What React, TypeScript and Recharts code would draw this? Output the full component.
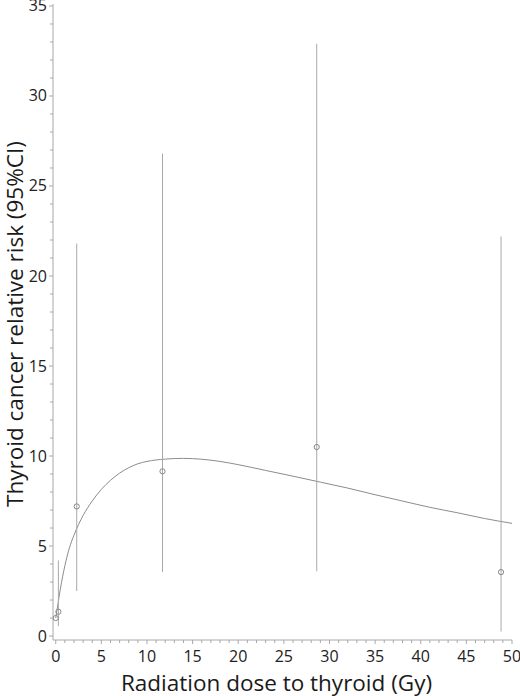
import React from 'react';
import { ComposedChart, Line, Scatter, ErrorBar, XAxis, YAxis } from 'recharts';

// fitted dose-response curve
const curveDose = [0, 0.25, 0.5, 1, 1.5, 2, 3, 4, 5, 6, 7, 8, 9, 10, 12, 14, 16, 18, 20, 23, 26, 29, 32, 35, 38, 41, 44, 47, 50];
const curveRisk = [1.0, 1.8, 2.6, 3.9, 4.9, 5.6, 6.7, 7.5, 8.15, 8.65, 9.05, 9.35, 9.57, 9.7, 9.83, 9.87, 9.82, 9.7, 9.52, 9.2, 8.88, 8.55, 8.22, 7.85, 7.5, 7.15, 6.85, 6.53, 6.26];

// category estimates with 95% CI
const pointDose = [0.0, 0.29, 2.3, 11.7, 28.6, 48.8];
const pointRisk = [1.0, 1.35, 7.2, 9.15, 10.5, 3.55];
const ciLow = [1.0, 0.55, 2.5, 3.55, 3.6, 0.25];
const ciHigh = [1.0, 4.2, 21.8, 26.8, 32.9, 22.2];

const xTicks = Array.from({ length: 51 }, (_, i) => i);
const yTicks = Array.from({ length: 36 }, (_, i) => i);

const curveData = curveDose.map((x, i) => ({ x, rr: curveRisk[i] }));
const pointData = pointDose.map((x, i) => ({
  x,
  y: pointRisk[i],
  err: [pointRisk[i] - ciLow[i], ciHigh[i] - pointRisk[i]],
}));

const AXIS = '#a8a8a8';
const FONT = '"Open Sans", sans-serif';

const XTick = (props: any) => {
  const { x, y, payload } = props;
  const major = payload.value % 5 === 0;
  return (
    <g>
      <line x1={x} x2={x} y1={y} y2={y + (major ? 4 : 3)} stroke={AXIS} />
      {major && (
        <text x={x} y={y + 22} textAnchor="middle" fontFamily={FONT} fontSize={16} fill="#222">
          {payload.value}
        </text>
      )}
    </g>
  );
};

const YTick = (props: any) => {
  const { x, y, payload } = props;
  const major = payload.value % 5 === 0;
  return (
    <g>
      <line x1={x} x2={x - (major ? 4 : 3)} y1={y} y2={y} stroke={AXIS} />
      {major && (
        <text x={x - 6} y={y + 5.5} textAnchor="end" fontFamily={FONT} fontSize={16} fill="#222">
          {payload.value}
        </text>
      )}
    </g>
  );
};

const Ring = (props: any) => (
  <circle cx={props.cx} cy={props.cy} r={2.6} fill="none" stroke="#888" strokeWidth={1} />
);

export default function App() {
  return (
    <div style={{ position: 'absolute', left: 0, top: 0 }}>
      <ComposedChart width={520} height={696} margin={{ top: 4, right: 8, bottom: 0, left: 0 }}>
        <XAxis
          type="number"
          dataKey="x"
          domain={[-0.3, 50]}
          ticks={xTicks}
          interval={0}
          tickSize={0}
          tickMargin={0}
          tick={<XTick />}
          height={56}
          stroke={AXIS}
          allowDataOverflow
          label={{
            value: 'Radiation dose to thyroid (Gy)',
            position: 'insideBottom',
            offset: 5,
            dx: -6,
            style: { fontFamily: FONT, fontSize: 22.5, fill: '#1a1a1a' },
          }}
        />
        <YAxis
          type="number"
          domain={[-0.22, 35.11]}
          ticks={yTicks}
          interval={0}
          tickSize={0}
          tickMargin={0}
          tick={<YTick />}
          width={53}
          stroke={AXIS}
          allowDataOverflow
          label={{
            value: 'Thyroid cancer relative risk (95%CI)',
            angle: -90,
            position: 'center',
            dx: -11,
            dy: 2,
            style: { fontFamily: FONT, fontSize: 22.5, fill: '#1a1a1a', textAnchor: 'middle' },
          }}
        />
        <Line
          data={curveData}
          dataKey="rr"
          type="monotone"
          stroke="#8c8c8c"
          strokeWidth={1}
          dot={false}
          activeDot={false}
          isAnimationActive={false}
        />
        <Scatter data={pointData} dataKey="y" shape={<Ring />} isAnimationActive={false}>
          <ErrorBar dataKey="err" direction="y" width={0} stroke="#a8a8a8" strokeWidth={1} isAnimationActive={false} />
        </Scatter>
      </ComposedChart>
    </div>
  );
}
